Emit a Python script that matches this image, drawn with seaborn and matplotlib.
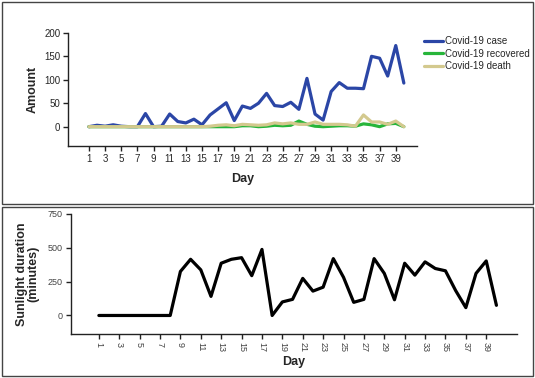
import numpy as np
import pandas as pd
import matplotlib
matplotlib.use('Agg')
import matplotlib.pyplot as plt
import seaborn as sns
from matplotlib.patches import Rectangle

# Daily values (days 1-40)
days = list(range(1, 41))
cases = [0, 3, 1, 4, 1, 0, 0, 28, 0, 1,
         27, 11, 8, 16, 4, 25, 38, 51, 13, 44,
         39, 50, 71, 45, 43, 52, 37, 103, 27, 14,
         75, 94, 82, 82, 81, 150, 146, 108, 173, 93]
recovered = [0, 0, 0, 0, 0, 0, 0, 0, 0, 0,
             0, 0, 0, 0, 0, 0, 0, 0, 0, 2,
             2, 0, 1, 3, 2, 3, 12, 5, 1, 0,
             1, 2, 2, 1, 6, 4, 0, 6, 7, 0]
deaths = [0, 0, 0, 0, 0, 0, 0, 0, 0, 0,
          0, 0, 0, 0, 0, 1, 3, 4, 2, 5,
          4, 3, 4, 8, 6, 8, 5, 5, 10, 5,
          5, 5, 4, 1, 25, 10, 10, 5, 12, 0]
sunlight = [0, 0, 0, 0, 0, 0, 0, 0, 325, 415,
            337, 141, 386, 415, 427, 294, 488, 0, 100, 119,
            274, 180, 209, 420, 282, 97, 119, 420, 311, 116,
            386, 298, 396, 347, 330, 184, 58, 311, 403, 75]

series_names = ['Covid-19 case', 'Covid-19 recovered', 'Covid-19 death']
series_colors = ['#2b46a6', '#27b53a', '#d3c98e']
odd_days = list(range(1, 40, 2))

covid_df = pd.DataFrame({
    'Day': days * 3,
    'Amount': cases + recovered + deaths,
    'Series': [s for s in series_names for _ in days],
})
sun_df = pd.DataFrame({'Day': days, 'Sunlight': sunlight})

sns.set_style('ticks')
plt.rcParams['font.family'] = ['Liberation Sans', 'DejaVu Sans']

fig = plt.figure(figsize=(5.35, 3.78), dpi=100)

# top panel: covid counts
ax1 = fig.add_axes([0.127, 0.614, 0.652, 0.299])
sns.lineplot(data=covid_df, x='Day', y='Amount', hue='Series',
             palette=dict(zip(series_names, series_colors)),
             linewidth=2.3, ax=ax1)
ax1.set_xlim(-1.6, 41.6)
ax1.set_ylim(-41, 200)
ax1.set_xticks(odd_days)
ax1.set_yticks([0, 50, 100, 150, 200])
ax1.set_xlabel('Day', fontsize=9, fontweight='bold', labelpad=7)
ax1.set_ylabel('Amount', fontsize=9, fontweight='bold', labelpad=4)
ax1.legend(loc='upper left', bbox_to_anchor=(1.0, 1.03), frameon=False,
           fontsize=7, handlelength=2.0, handletextpad=0.2, labelspacing=0.25,
           borderaxespad=0.3)
sns.despine(ax=ax1)

# bottom panel: sunlight duration
ax2 = fig.add_axes([0.132, 0.116, 0.834, 0.318])
sns.lineplot(data=sun_df, x='Day', y='Sunlight', color='black',
             linewidth=2.3, ax=ax2)
ax2.set_xlim(-1.77, 42.0)
ax2.set_ylim(-138, 750)
ax2.set_xticks(odd_days)
ax2.set_xticklabels([str(d) for d in odd_days], rotation=-90)
ax2.set_yticks([0, 250, 500, 750])
ax2.set_xlabel('Day', fontsize=9, fontweight='bold', labelpad=3)
ax2.set_ylabel('Sunlight duration\n(minutes)', fontsize=9, fontweight='bold',
               labelpad=6, linespacing=1.0)
sns.despine(ax=ax2)

for ax in (ax1, ax2):
    ax.tick_params(axis='both', labelsize=7, length=3.5, width=1.0,
                   color='#222222', pad=2)
    for sp in ('left', 'bottom'):
        ax.spines[sp].set_linewidth(1.0)
        ax.spines[sp].set_color('#222222')
ax2.tick_params(axis='both', labelcolor='#444444', labelsize=6.5)

# panel frames
fig.patches.append(Rectangle((2 / 535, 1 - 204 / 378), 531 / 535, 202 / 378,
                             transform=fig.transFigure, fill=False,
                             edgecolor='#444444', linewidth=1.0))
fig.patches.append(Rectangle((2 / 535, 1 - 376 / 378), 531 / 535, 169 / 378,
                             transform=fig.transFigure, fill=False,
                             edgecolor='#444444', linewidth=1.0))

fig.savefig('out.png', dpi=100)
